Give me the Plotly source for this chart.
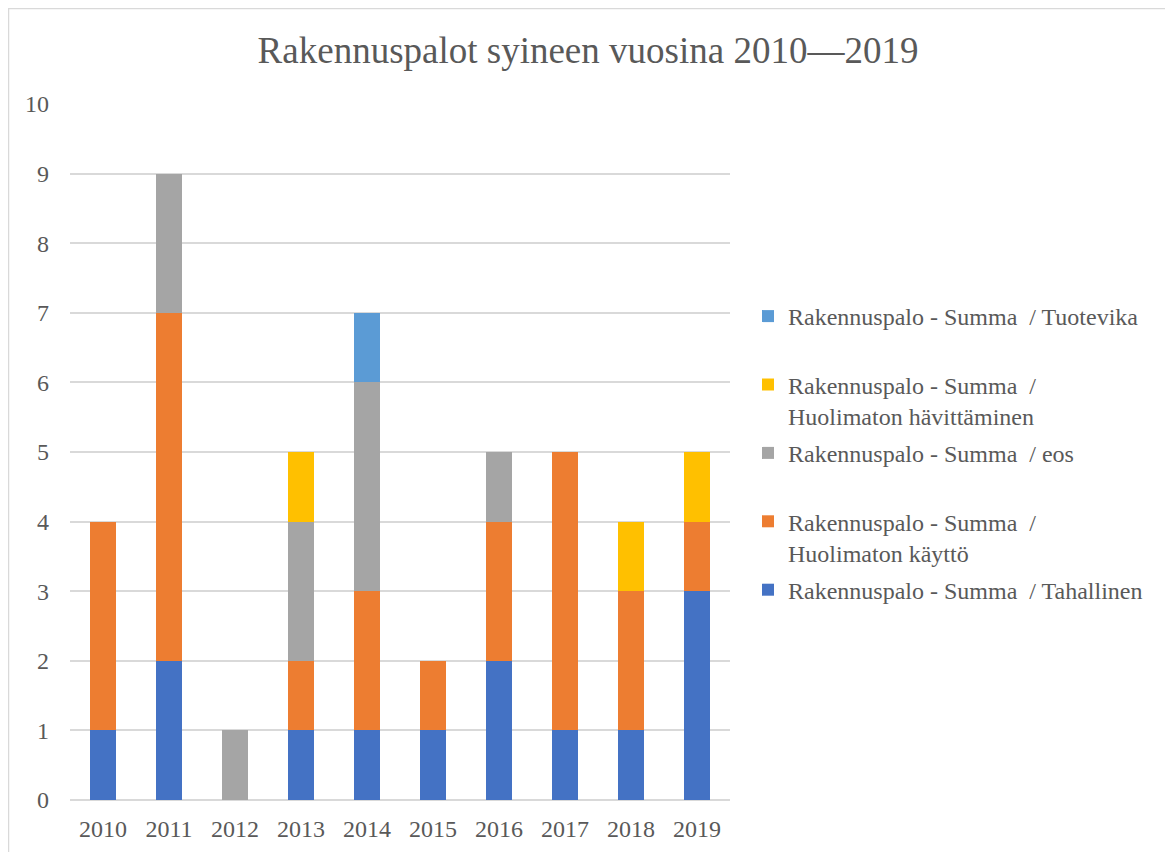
import plotly.graph_objects as go

years = ["2010", "2011", "2012", "2013", "2014", "2015", "2016", "2017", "2018", "2019"]
tahallinen = [1, 2, 0, 1, 1, 1, 2, 1, 1, 3]
kaytto = [3, 5, 0, 1, 2, 1, 2, 4, 2, 1]
eos = [0, 2, 1, 2, 3, 0, 1, 0, 0, 0]
havittaminen = [0, 0, 0, 1, 0, 0, 0, 0, 1, 1]
tuotevika = [0, 0, 0, 0, 1, 0, 0, 0, 0, 0]

series = [
    ("Rakennuspalo - Summa  / Tahallinen<br>&nbsp;", tahallinen, "#4472C4"),
    ("Rakennuspalo - Summa  /<br>Huolimaton käyttö", kaytto, "#ED7D31"),
    ("Rakennuspalo - Summa  / eos<br>&nbsp;", eos, "#A5A5A5"),
    ("Rakennuspalo - Summa  /<br>Huolimaton hävittäminen", havittaminen, "#FFC000"),
    ("Rakennuspalo - Summa  / Tuotevika<br>&nbsp;", tuotevika, "#5B9BD5"),
]

FONT = "Liberation Serif, Times New Roman, serif"
GREY = "#595959"

fig = go.Figure()
n = len(series)
for i, (name, vals, color) in enumerate(series):
    fig.add_trace(go.Bar(
        x=years, y=vals, name=name, marker_color=color,
        marker_line_width=0, legendgroup=str(i), legendrank=(n - i) * 10,
    ))

# page body has an 8px margin, so figure coords = screen coords - 8
W, H = 1165, 844
L, R, T, B = 62, 443, 96, 52
pw, ph = W - L - R, H - T - B

fig.update_layout(
    width=W, height=H,
    barmode="stack", bargap=0.6,
    plot_bgcolor="white", paper_bgcolor="white",
    margin=dict(l=L, r=R, t=T, b=B),
    font=dict(family=FONT, color=GREY, size=24),
    title=dict(text="Rakennuspalot syineen vuosina 2010—2019",
               x=(580 / W), xref="container", xanchor="center",
               y=1 - 42 / H, yref="container", yanchor="middle",
               font=dict(size=37, color=GREY, family=FONT)),
    legend=dict(traceorder="grouped", x=(740 - L) / pw, xanchor="left",
                y=(H - B - 286) / ph, yanchor="top", tracegroupgap=3,
                valign="top",
                font=dict(size=24, color=GREY, family=FONT),
                itemclick=False),
    xaxis=dict(showgrid=False, ticks="", showline=False, automargin=False,
               tickfont=dict(size=24, color=GREY), ticklabelstandoff=12),
    yaxis=dict(range=[0, 10], dtick=1, showgrid=True, gridcolor="#D9D9D9",
               gridwidth=1.5, zeroline=True, zerolinecolor="#D9D9D9",
               zerolinewidth=1.5, ticks="", automargin=False,
               tickfont=dict(size=24, color=GREY), ticklabelstandoff=20),
    shapes=[dict(type="rect", xref="paper", yref="paper",
                 x0=(0.5 - L) / pw, x1=(1162 - L) / pw,
                 y0=(H - B - 870) / ph, y1=(H - B - 0.5) / ph,
                 line=dict(color="#D9D9D9", width=1.5), layer="below")],
)

fig.write_html("out.html")
